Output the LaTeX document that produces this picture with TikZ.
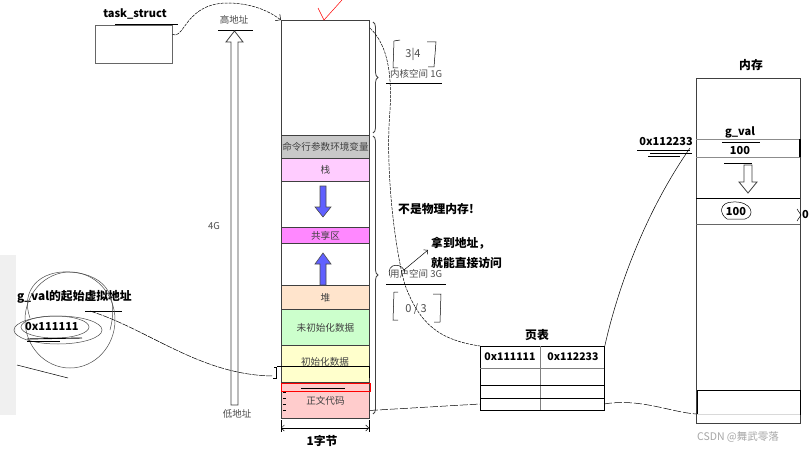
\documentclass[tikz,border=0pt]{standalone}
\usepackage{fontspec}
\setmainfont{Noto Sans CJK SC}
\usetikzlibrary{arrows.meta,decorations.pathreplacing}
\definecolor{segline}{HTML}{404040}
\definecolor{cmdgray}{HTML}{C8C8C8}
\definecolor{stackpink}{HTML}{FFCCFF}
\definecolor{sharemag}{HTML}{FF88FF}
\definecolor{heappeach}{HTML}{FFE4CC}
\definecolor{bssgreen}{HTML}{CCFFCC}
\definecolor{datayellow}{HTML}{FFFFCC}
\definecolor{textpink}{HTML}{FFCCCC}
\definecolor{arrowblue}{HTML}{6060FF}
\begin{document}
\begin{tikzpicture}[x=1pt,y=-1pt,
  seg/.style={draw=segline, line width=0.9pt, minimum width=88pt, inner sep=0pt, anchor=north west, font=\fontsize{9.6}{11}\selectfont, text=black!75},
  lbl/.style={font=\bfseries\fontsize{11}{13}\selectfont, inner sep=1pt},
  cjkb/.style={font=\bfseries\fontsize{11.8}{14}\selectfont, inner sep=1pt},
  small/.style={font=\fontsize{9.5}{11}\selectfont, text=black!70, inner sep=1pt},
  thinl/.style={line width=0.5pt},
  hollow/.style={draw=segline, line width=0.8pt, fill=white},
  bluearr/.style={draw=black!70, line width=0.6pt, fill=arrowblue},
  brc/.style={decorate, decoration={brace, amplitude=5pt}, line width=0.8pt, draw=black!75},
]
\useasboundingbox[fill=white] (0,0) rectangle (809,452);
\fill[black!6] (0,255) rectangle (16,415);

% task_struct
\node[lbl] (tsl) at (135,14) {task\_struct};
\draw[thinl] (115,24) -- (178,24);
\node[draw=black!60, thinl, minimum width=77pt, minimum height=38pt, inner sep=0pt, anchor=north west] (ts) at (95,25) {};

% address arrow
\node[small] (hi) at (234,20) {高地址};
\draw[thinl] (218,30) -- (253,30);
\draw[hollow] (231,405) -- (231,42) -- (226,42) -- (234.5,31) -- (243,42) -- (238,42) -- (238,405) -- cycle;
\node[small] (fourg) at (214,226) {4G};
\node[small] (lo) at (237,414) {低地址};

% memory column
\node[seg, minimum height=115pt] (kern) at (281,20) {};
\node[seg, minimum height=23pt, fill=cmdgray] (cmd) at (281,135) {命令行参数环境变量};
\node[seg, minimum height=23pt, fill=stackpink] (stack) at (281,158) {栈};
\node[seg, minimum height=46pt] (gap1) at (281,181) {};
\node[seg, minimum height=16pt, fill=sharemag] (share) at (281,227) {共享区};
\node[seg, minimum height=42pt] (gap2) at (281,243) {};
\node[seg, minimum height=24pt, fill=heappeach] (heap) at (281,285) {堆};
\node[seg, minimum height=36pt, fill=bssgreen] (bss) at (281,309) {未初始化数据};
\node[seg, minimum height=37pt, fill=datayellow] (data) at (281,345) {};
\node[seg, minimum height=36pt, fill=textpink] (txt) at (281,382) {正文代码};
\node[font=\fontsize{9.6}{11}\selectfont, text=black!75, inner sep=0pt] (datal) at (325,362) {初始化数据};
\draw[red, line width=0.7pt] (281,383) rectangle (370,391);
\draw[line width=0.6pt] (277,366) -- (369,366) -- (369,378);
\draw[thinl] (274,367) -- (276,367) -- (276,378) -- (273,378);
\draw[thinl] (301,388) -- (345,388);
\draw[thinl] (283,392) -- (286,392) (283,398) -- (286,398) (283,404) -- (286,404) (283,410) -- (286,410);

% blue arrows
\draw[bluearr] (320,186) -- (326,186) -- (326,207) -- (331,207) -- (323,217) -- (315,207) -- (320,207) -- cycle;
\draw[bluearr] (320,285) -- (326,285) -- (326,264) -- (331,264) -- (323,253) -- (315,264) -- (320,264) -- cycle;

% width
\draw[thinl, {Straight Barb[length=3pt]}-{Straight Barb[length=3pt]}] (281,428) -- (369,428);
\draw[thinl] (281,420) -- (281,432) (369,420) -- (369,432);
\node[cjkb] (byte) at (322,441) {1字节};

% braces
\draw[brc] (373,22) -- (373,133) coordinate[midway] (kb);
\draw[brc] (373,136) -- (373,414) coordinate[midway] (ub);
\node[small, anchor=west] (kl) at (389,74) {内核空间 1G};
\draw[thinl] (386,83) -- (442,83);
\node[small, anchor=west] (ul) at (389,274) {用户空间 3G};
\draw[thinl] (386,284) -- (446,284);

% handwritten fractions
\draw[thinl] (400,40) -- (394,41) -- (393,68) -- (398,68);
\draw[thinl] (427,42) -- (436,42) -- (434,67) -- (428,67);
\node[font=\fontsize{11}{12}\selectfont, text=black!70] (frac1) at (413,54) {3|4};
\draw[thinl] (398,292) -- (394,292) -- (393,320) -- (398,320);
\draw[thinl] (433,294) -- (441,294) -- (440,322) -- (434,322);
\node[font=\fontsize{11}{12}\selectfont, text=black!70] (frac2) at (416,309) {0 / 3};

% notes
\node[cjkb, anchor=west] (notphys) at (397,209) {不是物理内存!};
\node[cjkb, anchor=west] (get1) at (430,243) {拿到地址，};
\node[cjkb, anchor=west] (get2) at (430,263) {就能直接访问};
\draw[thinl, -{Straight Barb[length=3pt]}] (404,270) -- (428,250);
\draw[thinl] (390,276) .. controls (385,262) and (405,262) .. (405,274);

% red tick
\draw[red, thinl] (318,8) -- (324,20) -- (342,0);

% page table
\node[cjkb] (ptl) at (537,335) {页表};
\draw[thinl] (525,346) -- (550,346);
\node[draw, line width=0.8pt, minimum width=124pt, minimum height=64pt, inner sep=0pt, anchor=north west] (pt) at (480,346) {};
\draw[black!50, line width=0.6pt] (540,346) -- (540,410);
\draw[black!50, line width=0.6pt] (480,368) -- (604,368);
\draw[line width=0.8pt] (480,385) -- (604,385);
\draw[line width=0.8pt] (480,398) -- (604,398);
\node[lbl, font=\bfseries\fontsize{10.5}{12}\selectfont] (va) at (510,357) {0x111111};
\node[lbl, font=\bfseries\fontsize{10.5}{12}\selectfont] (pa) at (573,357) {0x112233};
\coordinate (ptbl) at (480,404);
\coordinate (ptbr) at (604,404);

% physical memory
\node[cjkb] (meml) at (751,65) {内存};
\node[draw=black!75, line width=0.7pt, minimum width=104pt, minimum height=345pt, inner sep=0pt, anchor=north west] (mem) at (696,78) {};
\draw[black!45, line width=0.6pt] (696,139) -- (800,139) (696,157) -- (800,157);
\draw[line width=1.2pt] (800,139) -- (800,157);
\node[lbl] (gv) at (740,132) {g\_val};
\draw[thinl] (722,142) -- (760,142);
\node[lbl] (gv100) at (740,151) {100};
\draw[thinl] (724,163) -- (752,163);
\draw[hollow] (744,165) -- (752,165) -- (752,182) -- (757,182) -- (748,193) -- (739,182) -- (744,182) -- cycle;
\draw[line width=0.8pt] (696,198) -- (800,198);
\draw[black!60, line width=0.6pt] (696,224) -- (800,224);
\node[lbl] (nv100) at (736,212) {100};
\draw[thinl] (727,219) .. controls (719,214) and (719,202) .. (733,202) .. controls (752,201) and (756,216) .. (745,219) -- (727,219);
\draw[line width=0.8pt] (697,390) rectangle (800,414);
\draw[black!15, line width=0.6pt] (697,414) -- (800,414);
\node[lbl, anchor=east] (paddr) at (694,142) {0x112233};
\draw[thinl] (637,150) -- (690,150);
\draw[thinl] (650,153) -- (692,153);
\draw[thinl] (648,156) -- (680,156);
\node[lbl, anchor=east, inner sep=0pt] (cut) at (809,215) {0};
\draw[thinl] (801,215) -- (797,209) (801,215) -- (797,221);

% left virtual address
\node[cjkb, anchor=west] (gvs) at (16,297) {g\_val的起始虚拟地址};
\draw[thinl] (85,311) -- (122,311);
\node[lbl, anchor=west] (va0) at (24,327) {0x111111};
\draw[black!70, thinl] (58,330) ellipse (44pt and 14pt);
\draw[black!70, thinl] (55,327) ellipse (34pt and 11pt);
\draw[black!70, thinl] (70,320) ellipse (45pt and 48pt);
\draw[black!70, thinl] (30,318) .. controls (20,290) and (40,270) .. (70,272) .. controls (110,275) and (118,300) .. (110,330);
\draw[line width=0.9pt] (27,339) -- (82,338);
\draw[thinl] (27,341) -- (60,341);
\draw[thinl] (17,365) -- (68,378);

% connectors
\draw[thinl, dash pattern=on 3pt off 1pt, -{Straight Barb[length=4pt]}] (ts.east) ++(0,-10) .. controls (185,40) and (185,2) .. (230,3) .. controls (255,4) and (270,12) .. (kern.north west);
\draw[thinl, dash pattern=on 3pt off 1pt] (kern.north east) ++(0,8) .. controls (388,45) and (392,75) .. (390,110) .. controls (385,170) and (395,250) .. (405,285) .. controls (420,325) and (440,340) .. (pt.north west);
\draw[thinl, dash pattern=on 8pt off 2pt] (txt.east) ++(0,10) -- (ptbl);
\draw[thinl, dash pattern=on 8pt off 2pt] (ptbr) .. controls (640,398) and (670,412) .. (mem.south west |- 0,414);
\draw[thinl] (pt.north east) .. controls (615,300) and (640,220) .. (690,148);
\draw[thinl, dash pattern=on 6pt off 1pt] (90,311) .. controls (150,330) and (200,375) .. (273,376);

% watermark
\node[font=\fontsize{10.5}{12}\selectfont, text=black!35] (wm) at (738,437) {CSDN @舞武零落};
\end{tikzpicture}
\end{document}
